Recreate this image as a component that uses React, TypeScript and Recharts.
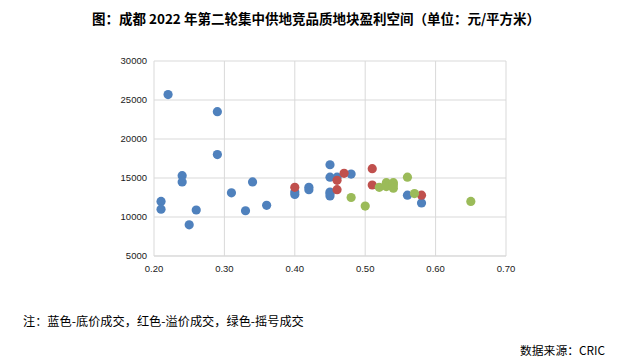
import React from 'react';
import { ScatterChart, Scatter, XAxis, YAxis, CartesianGrid } from 'recharts';

// 蓝色 - 底价成交
const floorX = [0.22, 0.29, 0.29, 0.24, 0.24, 0.21, 0.21, 0.25, 0.26, 0.31, 0.33, 0.34, 0.36, 0.40, 0.40, 0.42, 0.42, 0.45, 0.45, 0.45, 0.45, 0.45, 0.46, 0.48, 0.56, 0.58];
const floorY = [25700, 23500, 18000, 15300, 14500, 12000, 11000, 9000, 10900, 13100, 10800, 14500, 11500, 13200, 12900, 13800, 13500, 16700, 15100, 13200, 13000, 12700, 15100, 15500, 12800, 11800];

// 红色 - 溢价成交
const premiumX = [0.40, 0.46, 0.46, 0.47, 0.51, 0.51, 0.58];
const premiumY = [13800, 14700, 13500, 15600, 16200, 14100, 12800];

// 绿色 - 摇号成交
const lotteryX = [0.48, 0.50, 0.52, 0.53, 0.53, 0.54, 0.54, 0.54, 0.56, 0.57, 0.65];
const lotteryY = [12500, 11400, 13800, 14400, 13900, 14400, 14100, 13700, 15100, 13000, 12000];

const xTicks = [0.2, 0.3, 0.4, 0.5, 0.6, 0.7];
const yTicks = [5000, 10000, 15000, 20000, 25000, 30000];

const title = '图：成都 2022 年第二轮集中供地竞品质地块盈利空间（单位：元/平方米）';
const note = '注：蓝色-底价成交，红色-溢价成交，绿色-摇号成交';
const source = '数据来源：CRIC';

const toPoints = (xs: number[], ys: number[]) => xs.map((x, i) => ({ x, y: ys[i] }));

const dot = (color: string) => (props: any) => (
  <circle cx={props.cx} cy={props.cy} r={4.6} fill={color} />
);

const tickStyle = { fill: '#1a1a1a', fontSize: 9.5, fontFamily: 'Liberation Sans, sans-serif' };

export default function App() {
  return (
    <div style={{ position: 'absolute', left: 0, top: 0, width: 641, height: 363, background: '#fff', fontFamily: '"Noto Sans CJK SC", sans-serif' }}>
      <div style={{ position: 'absolute', left: 0, width: 632, top: 8, textAlign: 'center', fontSize: 13.5, fontWeight: 'bold', color: '#000', whiteSpace: 'nowrap' }}>
        {title}
      </div>
      <ScatterChart width={641} height={363} margin={{ top: 61, right: 135, bottom: 87, left: 104 }}>
        <CartesianGrid stroke="#d9d9d9" />
        <XAxis
          type="number"
          dataKey="x"
          domain={[0.2, 0.7]}
          ticks={xTicks}
          tickFormatter={(v: number) => v.toFixed(2)}
          height={20}
          tickSize={0}
          tickMargin={9}
          axisLine={{ stroke: '#d9d9d9' }}
          tick={tickStyle}
        />
        <YAxis
          type="number"
          dataKey="y"
          domain={[5000, 30000]}
          ticks={yTicks}
          width={50}
          tickSize={0}
          tickMargin={7}
          axisLine={false}
          tick={tickStyle}
        />
        <Scatter data={toPoints(floorX, floorY)} fill="#4f81bd" shape={dot('#4f81bd')} isAnimationActive={false} />
        <Scatter data={toPoints(premiumX, premiumY)} fill="#c0504d" shape={dot('#c0504d')} isAnimationActive={false} />
        <Scatter data={toPoints(lotteryX, lotteryY)} fill="#9bbb59" shape={dot('#9bbb59')} isAnimationActive={false} />
      </ScatterChart>
      <div style={{ position: 'absolute', left: 23, top: 312, fontSize: 12.2, color: '#000', whiteSpace: 'nowrap' }}>{note}</div>
      <div style={{ position: 'absolute', left: 520, top: 341, fontSize: 11.8, color: '#000', whiteSpace: 'nowrap' }}>{source}</div>
    </div>
  );
}
